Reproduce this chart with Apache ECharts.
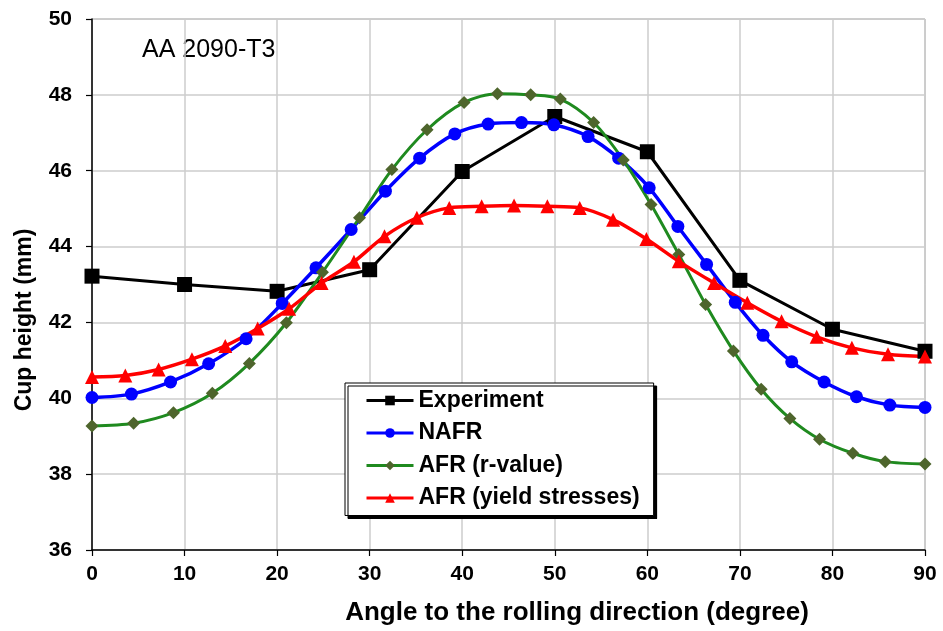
<!DOCTYPE html>
<html>
<head>
<meta charset="utf-8">
<script src="https://cdn.jsdelivr.net/npm/echarts@6/dist/echarts.min.js"></script>
<style>html,body{margin:0;padding:0;background:#fff}#c{width:943px;height:631px}</style>
</head>
<body>
<div id="c"></div>
<script>
var expX = [0, 10, 20, 30, 40, 50, 60, 70, 80, 90];
var expY = [43.22, 43.0, 42.82, 43.39, 45.98, 47.43, 46.5, 43.11, 41.82, 41.24];

var nafrX = [0, 4.26, 8.49, 12.6, 16.65, 20.55, 24.2, 28, 31.7, 35.4, 39.2, 42.8, 46.4, 49.9, 53.6, 56.9, 60.2, 63.3, 66.4, 69.5, 72.5, 75.6, 79.1, 82.6, 86.2, 90];
var nafrY = [40.02, 40.11, 40.43, 40.91, 41.57, 42.5, 43.44, 44.45, 45.46, 46.33, 46.97, 47.23, 47.27, 47.21, 46.9, 46.33, 45.55, 44.53, 43.53, 42.53, 41.66, 40.96, 40.43, 40.04, 39.82, 39.76];

var afrRX = [0, 4.5, 8.8, 13, 17, 21, 24.9, 28.9, 32.4, 36.2, 40.2, 43.8, 47.4, 50.6, 54.2, 57.4, 60.4, 63.4, 66.3, 69.3, 72.3, 75.4, 78.6, 82.2, 85.7, 90];
var afrRY = [39.27, 39.34, 39.62, 40.13, 40.92, 41.99, 43.32, 44.76, 46.03, 47.08, 47.8, 48.03, 48.0, 47.89, 47.27, 46.28, 45.11, 43.79, 42.47, 41.25, 40.24, 39.47, 38.92, 38.55, 38.33, 38.27];

var afrYX = [0, 3.6, 7.2, 10.8, 14.4, 17.9, 21.3, 24.8, 28.3, 31.6, 35.1, 38.6, 42.1, 45.6, 49.2, 52.7, 56.3, 59.9, 63.4, 67.2, 70.8, 74.5, 78.3, 82.1, 86, 90];
var afrYY = [40.56, 40.6, 40.76, 41.03, 41.38, 41.84, 42.36, 43.04, 43.6, 44.27, 44.76, 45.02, 45.06, 45.08, 45.06, 45.02, 44.71, 44.2, 43.61, 43.04, 42.52, 42.03, 41.62, 41.33, 41.16, 41.1];

var seriesNames = ['Experiment', 'NAFR', 'AFR (r-value)', 'AFR (yield stresses)'];
var xTicks = [0, 10, 20, 30, 40, 50, 60, 70, 80, 90];
var yTicks = [36, 38, 40, 42, 44, 46, 48, 50];

function pairs(xs, ys) { return xs.map(function (x, i) { return [x, ys[i]]; }); }

var FONT = '"Liberation Sans", Arial, sans-serif';
var chart = echarts.init(document.getElementById('c'), null, { renderer: 'canvas' });
chart.setOption({
  animation: false,
  backgroundColor: '#fff',
  grid: { left: 92, right: 18, top: 19, bottom: 81, show: true, borderColor: '#9a9a9a', borderWidth: 1 },
  xAxis: {
    type: 'value', min: xTicks[0], max: xTicks[xTicks.length - 1], interval: 10,
    axisLine: { onZero: false, lineStyle: { color: '#000', width: 1.5 } },
    axisTick: { show: true, length: 6, lineStyle: { color: '#000', width: 1.2 } },
    axisLabel: { margin: 14, color: '#000', fontWeight: 'bold', fontSize: 21, fontFamily: FONT },
    splitLine: { show: true, lineStyle: { color: '#cccccc', width: 1.5 } }
  },
  yAxis: {
    type: 'value', min: yTicks[0], max: yTicks[yTicks.length - 1], interval: 2,
    axisLine: { onZero: false, lineStyle: { color: '#000', width: 1.5 } },
    axisTick: { show: true, length: 6, lineStyle: { color: '#000', width: 1.2 } },
    axisLabel: { margin: 20, color: '#000', fontWeight: 'bold', fontSize: 21, fontFamily: FONT },
    splitLine: { show: true, lineStyle: { color: '#cccccc', width: 1.5 } }
  },
  legend: {
    orient: 'vertical', left: 345, top: 383,
    padding: [6, 14, 6, 20],
    itemWidth: 47, itemHeight: 12, itemGap: 9.5,
    backgroundColor: '#fff', borderColor: '#000', borderWidth: 1,
    shadowColor: '#000', shadowOffsetX: 3, shadowOffsetY: 3, shadowBlur: 0.01,
    lineStyle: { width: 3 },
    textStyle: { color: '#000', fontWeight: 'bold', fontSize: 23, fontFamily: FONT, lineHeight: 21 },
    data: seriesNames
  },
  graphic: [
    { type: 'text', left: 142, top: 38, style: { text: 'AA 2090-T3', fill: '#000', font: '25px ' + FONT } },
    { type: 'text', x: 577, y: 613, style: { text: 'Angle to the rolling direction (degree)', fill: '#000', font: 'bold 26px ' + FONT, textAlign: 'center', textVerticalAlign: 'middle' } },
    { type: 'text', x: 25, y: 320, rotation: Math.PI / 2, style: { text: 'Cup height (mm)', fill: '#000', font: 'bold 23px ' + FONT, textAlign: 'center', textVerticalAlign: 'middle' } }
  ],
  series: [
    {
      name: seriesNames[0], type: 'line', data: pairs(expX, expY),
      symbol: 'rect', symbolSize: 15,
      lineStyle: { color: '#000', width: 3 },
      itemStyle: { color: '#000', borderWidth: 0 }
    },
    {
      name: seriesNames[1], type: 'line', data: pairs(nafrX, nafrY), smooth: 0.3,
      symbol: 'circle', symbolSize: 13,
      lineStyle: { color: '#0000ff', width: 3.5 },
      itemStyle: { color: '#0000ff', borderWidth: 0 }
    },
    {
      name: seriesNames[2], type: 'line', data: pairs(afrRX, afrRY), smooth: 0.3,
      symbol: 'diamond', symbolSize: 13,
      lineStyle: { color: '#1f8a1f', width: 3 },
      itemStyle: { color: '#4e652c', borderWidth: 0 }
    },
    {
      name: seriesNames[3], type: 'line', data: pairs(afrYX, afrYY), smooth: 0.3,
      symbol: 'triangle', symbolSize: 14,
      lineStyle: { color: '#ff0000', width: 3.5 },
      itemStyle: { color: '#ff0000', borderWidth: 0 }
    }
  ]
});
</script>
</body>
</html>
